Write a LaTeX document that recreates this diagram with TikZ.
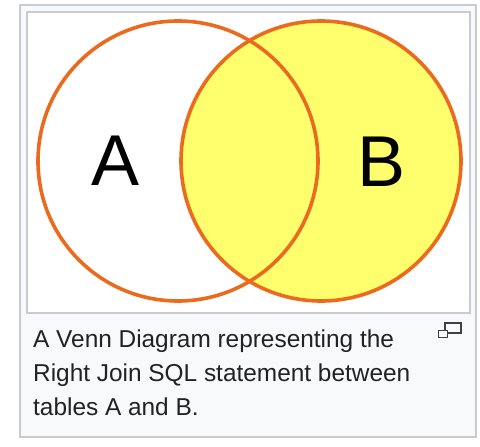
\documentclass[tikz,border=0pt]{standalone}
\usepackage{fontspec}
\setmainfont{Liberation Sans}
\usepackage{xcolor}
\definecolor{vennorange}{HTML}{EC6A1E}
\definecolor{vennyellow}{HTML}{FFFF6E}
\definecolor{frameline}{HTML}{C8CCD1}
\definecolor{thumbbg}{HTML}{F8F9FA}
\definecolor{captext}{HTML}{222222}

\begin{document}
\begin{tikzpicture}[
  x=1pt, y=-1pt,
  venn/.style={circle, draw=vennorange, line width=3.6pt, minimum size=280pt, inner sep=0pt, fill=#1},
  setlabel/.style={font=\fontsize{72}{72}\selectfont, text=black},
  capline/.style={anchor=base west, inner sep=0pt, font=\fontsize{24.4}{34}\selectfont, text=captext},
  frame/.style={draw=frameline, line width=1.2pt, fill=#1}
]
\useasboundingbox (0,0) rectangle (480,447);
\node[frame=thumbbg, minimum width=456pt, minimum height=432pt, inner sep=0pt] (thumb) at (248,221) {};
\node[frame=white, minimum width=443pt, minimum height=301pt, inner sep=0pt] (image) at (248.5,162.5) {};

\node[venn=vennyellow] (setB) at (321,161) {};
\node[venn=none] (setA) at (178,161) {};
\node[setlabel] (labelA) at (116,161) {A};
\node[setlabel] (labelB) at (382,162) {B};

\node[capline] (cap1) at (33,347) {A Venn Diagram representing the};
\node[capline] (cap2) at (33,381) {Right Join SQL statement between};
\node[capline] (cap3) at (33,415) {tables A and B.};

\node[draw=black!75, line width=1.2pt, minimum width=16pt, minimum height=10pt, inner sep=0pt] (magbig) at (453,328) {};
\node[draw=black!75, fill=thumbbg, line width=1.2pt, minimum width=9pt, minimum height=7pt, inner sep=0pt] (magsmall) at (443,334) {};
\end{tikzpicture}
\end{document}
